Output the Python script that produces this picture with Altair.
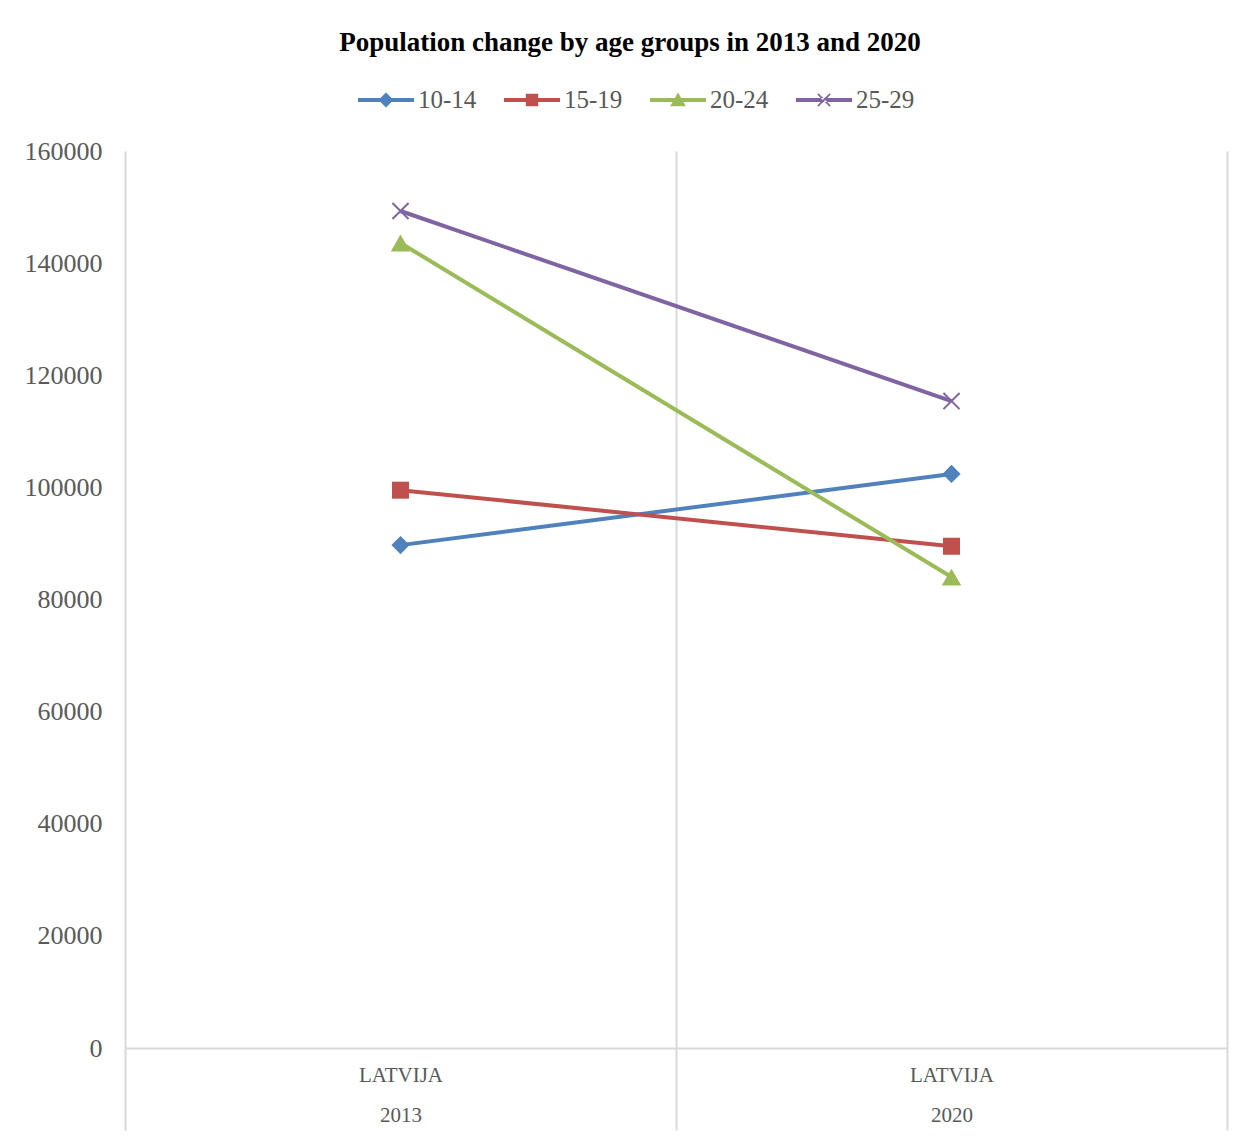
import altair as alt
import pandas as pd

# ---- data ----
years = ["2013", "2020"]
series = ["10-14", "15-19", "20-24", "25-29"]
values_2013 = [89700, 99500, 143600, 149300]
values_2020 = [102400, 89500, 84000, 115400]
colors = ["#4F81BD", "#C0504D", "#9BBB59", "#8064A2"]
y_ticks = [0, 20000, 40000, 60000, 80000, 100000, 120000, 140000, 160000]
title_text = "Population change by age groups in 2013 and 2020"
category_label = "LATVIJA"

rows = []
for s, a, b in zip(series, values_2013, values_2020):
    rows.append({"series": s, "year": years[0], "value": a})
    rows.append({"series": s, "year": years[1], "value": b})
df = pd.DataFrame(rows)

FONT = "Liberation Serif"
GREY = "#595959"
GRID = "#D9D9D9"

point_shapes = ["diamond", "square", "triangle-up", "M-1,-1L1,1M-1,1L1,-1"]
point_filled = [True, True, True, False]
point_sizes = [330, 290, 380, 260]

# legend symbols: line segment + marker (unit box = 56 px)
bar = "M-1,-0.075H1V0.075H-1Z"
legend_paths = [
    bar + "M0,-0.27L0.27,0L0,0.27L-0.27,0Z",
    bar + "M-0.22,-0.22H0.22V0.22H-0.22Z",
    bar + "M0,-0.27L0.28,0.22L-0.28,0.22Z",
    bar + "M-0.241,-0.199L0.199,0.241L0.241,0.199L-0.199,-0.241Z"
        + "M-0.241,0.199L0.199,-0.241L0.241,-0.199L-0.199,0.241Z",
]

x_enc = alt.X(
    "year:N",
    scale=alt.Scale(type="band", paddingInner=0, paddingOuter=0),
    axis=alt.Axis(
        title=None,
        labelExpr=f"indexof({years}, datum.label) >= 0 ? ['{category_label}', datum.label] : ''",
        tickBand="extent",
        grid=True,
        gridColor=GRID,
        gridWidth=2,
        ticks=True,
        tickColor=GRID,
        tickWidth=2,
        tickSize=82,
        domainColor=GRID,
        domainWidth=2,
        labelPadding=-66,
        labelBaseline="top",
        labelLineHeight=40,
        labelFont=FONT,
        labelFontSize=21,
        labelColor=GREY,
        labelAngle=0,
    ),
)
y_enc = alt.Y(
    "value:Q",
    scale=alt.Scale(domain=[0, 160000], nice=False),
    axis=alt.Axis(
        title=None,
        values=y_ticks,
        format="d",
        grid=False,
        domain=False,
        ticks=False,
        labelPadding=23,
        labelFont=FONT,
        labelFontSize=26,
        labelColor=GREY,
    ),
)

base = alt.Chart(df)

# data-derived domains (sorted series) so these hidden legends do not merge
lines = base.mark_line(strokeWidth=4).encode(
    x=x_enc,
    y=y_enc,
    stroke=alt.Stroke("series:N", scale=alt.Scale(range=colors), legend=None),
    detail="series:N",
)

point_layers = []
for s, shp, fl, sz in zip(series, point_shapes, point_filled, point_sizes):
    if fl:
        ch = {"fill": alt.Fill("series:N", scale=alt.Scale(range=colors), legend=None)}
    else:
        ch = {"stroke": alt.Stroke("series:N", scale=alt.Scale(range=colors), legend=None)}
    point_layers.append(
        base.transform_filter(alt.datum.series == s)
        .mark_point(shape=shp, filled=fl, size=sz, strokeWidth=2, opacity=1)
        .encode(x=x_enc, y=y_enc, **ch)
    )

legend_props = dict(
    title=None,
    orient="none",
    direction="horizontal",
    legendX=233,
    legendY=-79,
    symbolSize=3136,
    symbolStrokeWidth=0,
    symbolOpacity=1,
    labelFont=FONT,
    labelFontSize=25,
    labelColor=GREY,
    labelOffset=4,
    columnPadding=27,
)

# legend-only layer: draws no rows; the legend comes from the fixed domain
legend_layer = (
    base.transform_filter("false")
    .mark_point(filled=True)
    .encode(
        x=x_enc,
        y=y_enc,
        color=alt.Color(
            "series:N",
            scale=alt.Scale(domain=series, range=colors),
            legend=alt.Legend(**legend_props),
        ),
        shape=alt.Shape(
            "series:N",
            scale=alt.Scale(domain=series, range=legend_paths),
            legend=alt.Legend(**legend_props),
        ),
    )
)

chart = (
    alt.layer(lines, *point_layers, legend_layer)
    .properties(
        width=1102,
        height=897,
        padding={"left": 125, "top": 151, "right": 27, "bottom": 89},
        autosize="none",
        background="white",
        title=alt.TitleParams(
            text=title_text,
            font=FONT,
            fontSize=27,
            fontWeight="bold",
            color="#000000",
            anchor="middle",
            dx=-46,
            offset=15,
        ),
    )
    .configure_view(stroke="transparent")
)

chart.save("out.html", embed_options={"renderer": "svg", "actions": False})
